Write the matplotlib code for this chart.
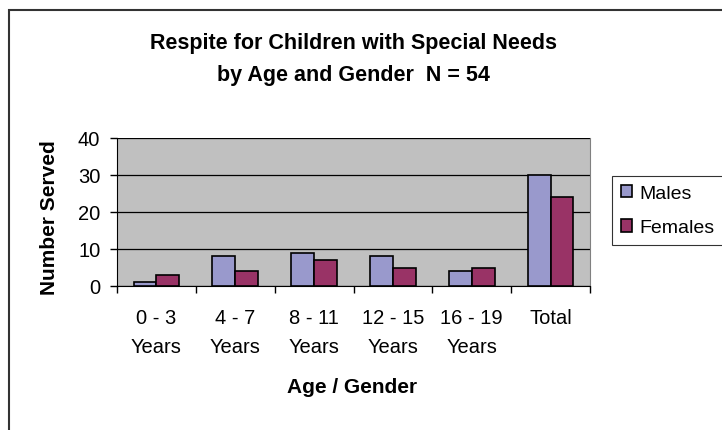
import matplotlib
matplotlib.use('Agg')
import matplotlib.pyplot as plt
import numpy as np
from matplotlib.patches import Rectangle, Patch

plt.rcParams['font.family'] = ['Liberation Sans', 'DejaVu Sans']

# 各年龄段服务人数
categories = ['0 - 3\nYears', '4 - 7\nYears', '8 - 11\nYears',
              '12 - 15\nYears', '16 - 19\nYears', 'Total']
males = [1, 8, 9, 8, 4, 30]
females = [3, 4, 7, 5, 5, 24]
series_names = ['Males', 'Females']
y_ticks = [0, 10, 20, 30, 40]

fig = plt.figure(figsize=(7.22, 4.31), dpi=100)
fig.patch.set_facecolor('white')

# 外框
fig.patches.append(Rectangle((9 / 722, -0.1), 1.2, 1 - 11 / 431 + 0.1,
                             transform=fig.transFigure, fill=False,
                             edgecolor='#333333', linewidth=1.5))

ax = fig.add_axes([117 / 722, 1 - 287 / 431, 473 / 722, 148 / 431])
ax.set_facecolor('#C0C0C0')

x = np.arange(len(categories))
w = 0.29
ax.bar(x - w / 2, males, w, color='#9999CC', edgecolor='black', linewidth=1.2,
       label=series_names[0], zorder=3)
ax.bar(x + w / 2, females, w, color='#993366', edgecolor='black', linewidth=1.2,
       label=series_names[1], zorder=3)

ax.set_xlim(-0.5, len(categories) - 0.5)
ax.set_ylim(0, 40)
ax.set_yticks(y_ticks)
ax.set_yticklabels([str(v) for v in y_ticks], fontsize=14.5)
ax.yaxis.grid(True, color='black', linewidth=0.9, zorder=1)
ax.set_axisbelow(True)

ax.set_xticks(x)
ax.set_xticklabels(categories, fontsize=14.5, linespacing=1.65)
ax.set_xticks(np.arange(-0.5, len(categories), 1), minor=True)
ax.tick_params(axis='x', which='major', length=0, pad=16)
ax.tick_params(axis='x', which='minor', length=5, width=1, direction='out')
ax.tick_params(axis='y', length=5, width=1, direction='out', pad=7)

ax.spines['top'].set_visible(False)
ax.spines['right'].set_color('#808080')
ax.spines['left'].set_color('black')
ax.spines['bottom'].set_color('black')

# 坐标轴标题
fig.text(50 / 722, 1 - 218 / 431, 'Number Served', rotation=90,
         ha='center', va='center', fontsize=15, fontweight='bold')
fig.text(352 / 722, 1 - 388 / 431, 'Age / Gender',
         ha='center', va='center', fontsize=15, fontweight='bold')

fig.text(353 / 722, 1 - 43 / 431, 'Respite for Children with Special Needs',
         ha='center', va='center', fontsize=15.5, fontweight='bold')
fig.text(353 / 722, 1 - 75 / 431, 'by Age and Gender  N = 54',
         ha='center', va='center', fontsize=15.5, fontweight='bold')

handles = [Patch(facecolor='#9999CC', edgecolor='black', linewidth=1.2),
           Patch(facecolor='#993366', edgecolor='black', linewidth=1.2)]
leg = fig.legend(handles, series_names, loc='upper left',
                 bbox_to_anchor=(612 / 722, 1 - 177 / 431),
                 fontsize=14, frameon=True, fancybox=False, shadow=False,
                 handlelength=0.6, handleheight=0.6, handletextpad=0.35,
                 borderpad=0.45, labelspacing=0.9, borderaxespad=0)
leg.get_frame().set_edgecolor('black')
leg.get_frame().set_linewidth(0.8)

fig.savefig('out.png', dpi=100)
